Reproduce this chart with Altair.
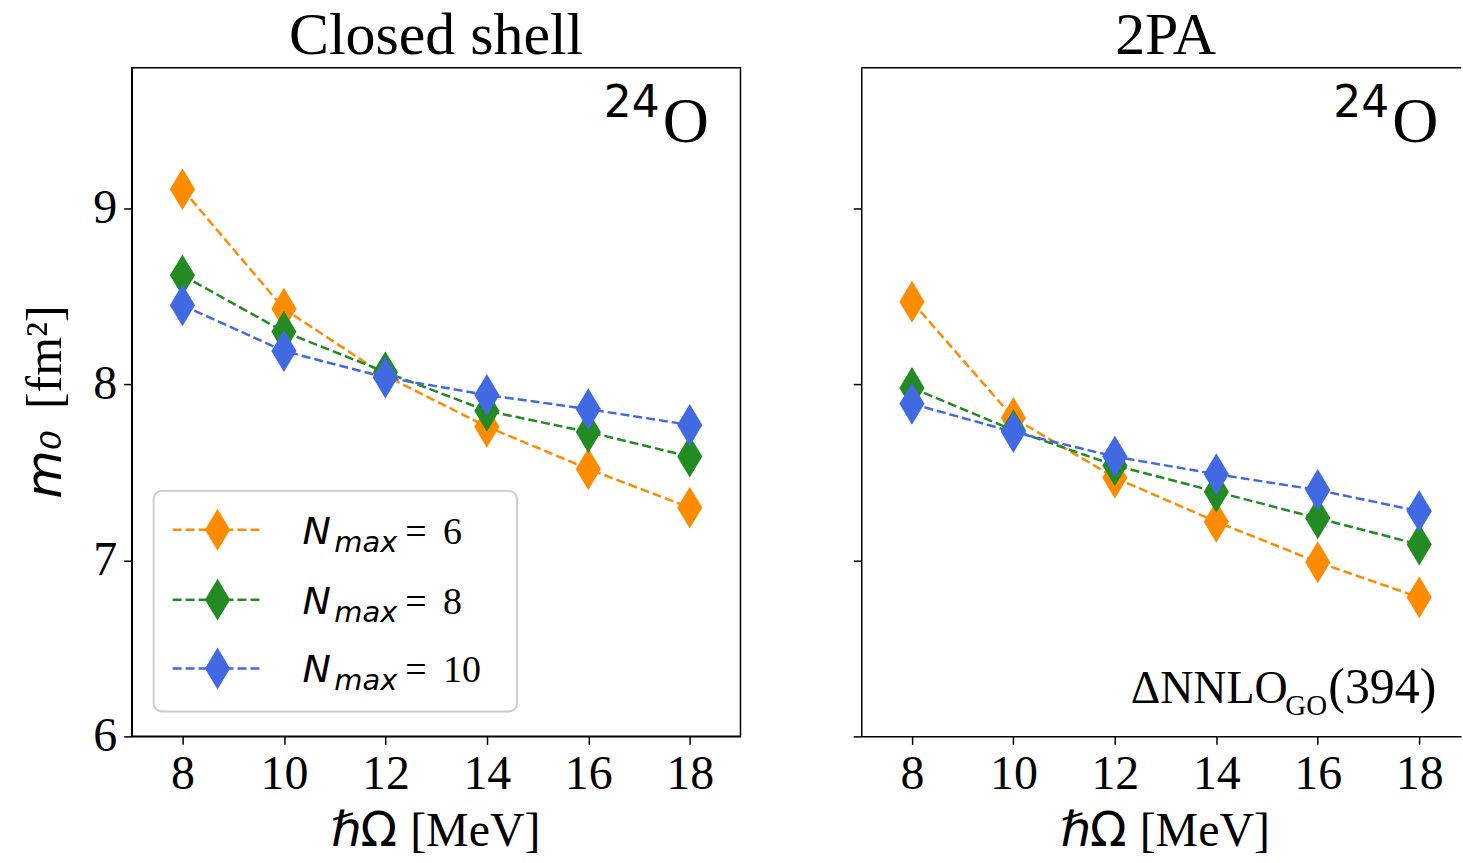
import altair as alt
import pandas as pd

SERIF = "Liberation Serif"
SANS = "DejaVu Sans"

hw = [8, 10, 12, 14, 16, 18]
nmax_labels = ["6", "8", "10"]
colors = ["#FF8C00", "#228B22", "#4169E1"]

closed_n6 = [9.11, 8.43, 8.05, 7.76, 7.52, 7.30]
closed_n8 = [8.62, 8.30, 8.07, 7.85, 7.73, 7.59]
closed_n10 = [8.45, 8.19, 8.04, 7.94, 7.86, 7.77]

pa_n6 = [8.47, 7.81, 7.47, 7.22, 6.99, 6.79]
pa_n8 = [7.98, 7.74, 7.54, 7.39, 7.24, 7.09]
pa_n10 = [7.89, 7.73, 7.59, 7.49, 7.40, 7.28]

x_ticks = [8, 10, 12, 14, 16, 18]
y_ticks = [6, 7, 8, 9]

DIAMOND = "M0,-1L0.6,0L0,1L-0.6,0Z"
MSIZE = 1764


def make_df(series):
    rows = []
    for k, (lab, vals) in enumerate(zip(nmax_labels, series)):
        for h, v in zip(hw, vals):
            rows.append({"hw": h, "m0": v, "Nmax": lab, "k": k})
    return pd.DataFrame(rows)


one = pd.DataFrame({"a": [0]})


def txt(s, x, y, size, font=SERIF, style="normal", align="left", angle=0):
    kw = dict(text=s, fontSize=size, font=font, fontStyle=style, align=align,
              baseline="alphabetic", color="black")
    if angle:
        kw["angle"] = angle
    return alt.Chart(one).mark_text(**kw).encode(x=alt.value(x), y=alt.value(y))


def panel(df, width, xmax, left, title):
    xenc = alt.X("hw:Q",
                 scale=alt.Scale(domain=[7, xmax], nice=False, zero=False),
                 axis=alt.Axis(values=x_ticks, title=None, labelFontSize=48,
                               labelFont=SERIF, labelPadding=6, labelFlush=False))
    yenc = alt.Y("m0:Q",
                 scale=alt.Scale(domain=[6, 9.8], nice=False, zero=False),
                 axis=alt.Axis(values=y_ticks, title=None, labels=left,
                               labelFontSize=48, labelFont=SERIF, labelPadding=7,
                               labelFlush=False))
    cenc = alt.Color("Nmax:N", scale=alt.Scale(domain=nmax_labels, range=colors),
                     legend=None)
    lines = alt.Chart(df).mark_line(strokeDash=[9, 4], strokeWidth=2.5).encode(
        x=xenc, y=yenc, color=cenc)
    pts = alt.Chart(df).mark_point(shape=DIAMOND, filled=True, size=MSIZE,
                                   opacity=1).encode(
        x=xenc, y=yenc, color=cenc, order=alt.Order("k:Q"))
    layers = [lines, pts]
    layers.append(txt(title, 305, -14, 60, align="center"))
    layers.append(txt("24", 473, 49, 44, font=SANS))
    layers.append(txt("O", 532, 74, 64))
    layers.append(txt("\u03a9", 266, 780, 48, font=SANS, align="right"))
    layers.append(txt("\u210f", 230, 780, 48, font=SANS, style="italic", align="right"))
    layers.append(txt("[MeV]", 279, 780, 48))
    if left:
        layers.append(txt("m\u2080", -71, 432, 50, font=SANS, style="italic", angle=270))
        layers.append(txt("[fm\u00b2]", -71, 342, 50, angle=270))
        # legend box
        layers.append(alt.Chart(one).mark_rect(fill="white", fillOpacity=0.8,
                                               stroke="#cccccc", strokeWidth=2,
                                               cornerRadius=8).encode(
            x=alt.value(22), x2=alt.value(386), y=alt.value(424), y2=alt.value(645)))
        for lab, col, ry in zip(nmax_labels, colors, [463, 533, 602]):
            layers.append(alt.Chart(one).mark_rule(color=col, strokeDash=[9, 4],
                                                   strokeWidth=2.5).encode(
                x=alt.value(41), x2=alt.value(132), y=alt.value(ry)))
            layers.append(alt.Chart(one).mark_point(shape=DIAMOND, filled=True,
                                                    size=MSIZE, opacity=1,
                                                    color=col).encode(
                x=alt.value(86), y=alt.value(ry)))
            layers.append(txt("N", 171, ry + 14, 38, font=SANS, style="italic"))
            layers.append(txt("max", 203, ry + 22, 29, font=SANS, style="italic"))
            layers.append(txt("=", 274, ry + 14, 38))
            layers.append(txt(lab, 312, ry + 14, 38))
    else:
        layers.append(alt.Chart(one).mark_rule(color="black", strokeWidth=1.5).encode(
            x=alt.value(0), x2=alt.value(width), y=alt.value(0)))
        layers.append(txt("\u0394NNLO", 270, 637, 46))
        layers.append(txt("GO", 425, 649, 29))
        layers.append(txt("(394)", 468, 637, 50))
    ch = alt.layer(*layers).properties(width=width, height=670)
    if not left:
        ch = ch.properties(view=alt.ViewBackground(stroke="transparent"))
    return ch


left_panel = panel(make_df([closed_n6, closed_n8, closed_n10]), 610, 19, True, "Closed shell")
right_panel = panel(make_df([pa_n6, pa_n8, pa_n10]), 601, 7 + 601 / 50.83, False, "2PA")

chart = alt.hconcat(left_panel, right_panel, spacing=121, bounds="flush").properties(
    padding={"left": 20, "top": 4, "right": 0, "bottom": 0}
).configure_view(stroke="black", strokeWidth=1.5).configure_axis(
    grid=False, domainColor="black", domainWidth=1.5, tickColor="black",
    tickWidth=1.5, tickSize=8, labelColor="black"
)

chart.save("out.html", embed_options={"renderer": "svg", "actions": False})
